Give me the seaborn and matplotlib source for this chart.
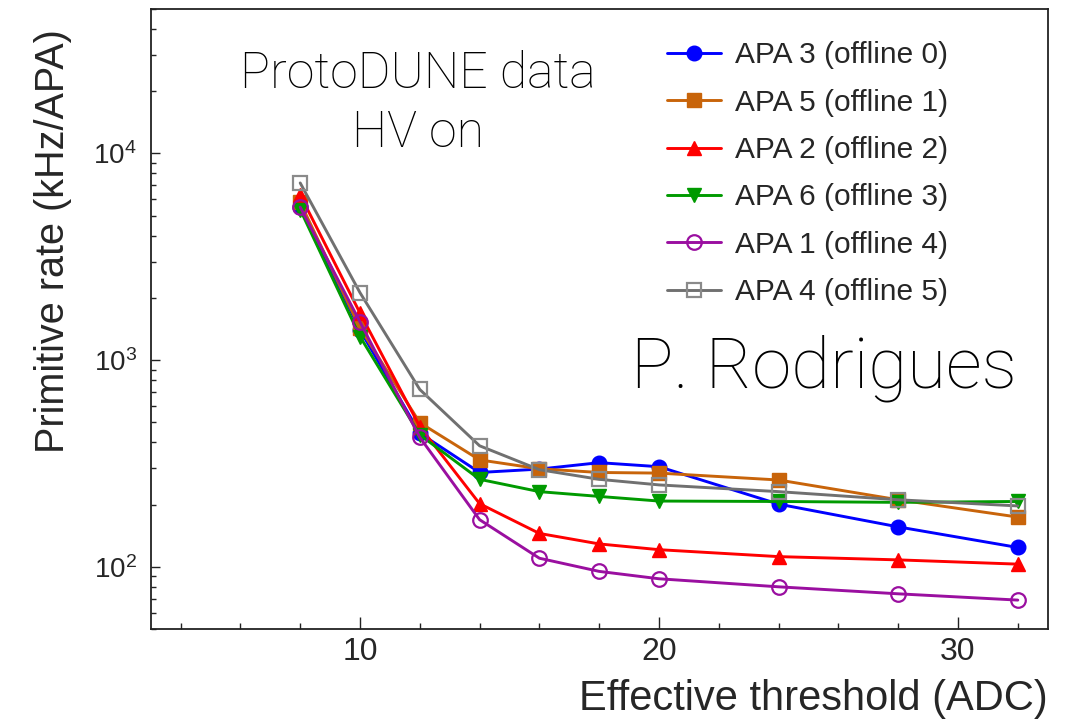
import matplotlib
matplotlib.use("Agg")
import matplotlib.pyplot as plt
import matplotlib.ticker as mticker
import seaborn as sns
import pandas as pd

# Effective threshold (ADC) scanned for each APA
thresholds = [8, 10, 12, 14, 16, 18, 20, 24, 28, 32]

# Trigger-primitive rate per APA (kHz/APA)
apa3_offline0 = [5500, 1400, 443, 286, 297, 319, 305, 201, 156, 124]
apa5_offline1 = [5800, 1430, 498, 329, 298, 286, 284, 263, 211, 174]
apa2_offline2 = [6300, 1690, 477, 202, 145, 129, 121, 112, 108, 103]
apa6_offline3 = [5350, 1300, 435, 265, 231, 219, 208, 207, 205, 207]
apa1_offline4 = [5500, 1530, 423, 169, 110, 95, 87.5, 80, 74, 69]
apa4_offline5 = [7200, 2120, 721, 385, 295, 265, 249, 231, 211, 197]

series_labels = ["APA 3 (offline 0)", "APA 5 (offline 1)", "APA 2 (offline 2)",
                 "APA 6 (offline 3)", "APA 1 (offline 4)", "APA 4 (offline 5)"]
series_values = [apa3_offline0, apa5_offline1, apa2_offline2,
                 apa6_offline3, apa1_offline4, apa4_offline5]

# Styling per series: colour, marker, filled
styles = [
    ("#0000ff", "o", True),
    ("#c8640a", "s", True),
    ("#ff0000", "^", True),
    ("#009a00", "v", True),
    ("#9a0fa0", "o", False),
    ("#707070", "s", False),
]

sns.set_theme(style="ticks")
plt.rcParams["font.family"] = ["Liberation Sans", "DejaVu Sans"]
plt.rcParams["mathtext.default"] = "regular"

fig = plt.figure(figsize=(10.75, 7.19), dpi=100)
ax = fig.add_axes([150.7 / 1075, (719 - 629) / 719, 897 / 1075, 620 / 719])

for label, values, (color, marker, filled) in zip(series_labels, series_values, styles):
    df = pd.DataFrame({"threshold": thresholds, "rate": values})
    kw = dict(markerfacecolor=color if filled else "none",
              markeredgecolor=color if filled else (color if marker == "o" else "#8a8a8a"),
              markeredgewidth=1.0 if filled else 1.6)
    sns.lineplot(data=df, x="threshold", y="rate", ax=ax, color=color,
                 marker=marker, markersize=10.5 if marker in "o^v" else 10,
                 linewidth=2.1, label=label, **kw)

ax.set_yscale("log")
ax.set_xlim(3, 33)
ax.set_ylim(50, 5e4)

ax.xaxis.set_major_locator(mticker.MultipleLocator(10))
ax.xaxis.set_minor_locator(mticker.MultipleLocator(2))
ax.yaxis.set_major_locator(mticker.LogLocator(base=10))
ax.yaxis.set_minor_locator(mticker.LogLocator(base=10, subs=range(2, 10)))
ax.yaxis.set_major_formatter(mticker.LogFormatterSciNotation())
ax.yaxis.set_minor_formatter(mticker.NullFormatter())

ax.tick_params(which="both", direction="in", top=False, right=False, width=1.0, color="#222222")
ax.tick_params(axis="x", which="major", length=8.6, pad=6, labelsize=23)
ax.tick_params(axis="x", which="minor", length=4.3)
ax.tick_params(axis="y", which="major", length=6.5, pad=10, labelsize=20)
ax.tick_params(axis="y", which="minor", length=3.5)
for sp in ax.spines.values():
    sp.set_linewidth(1.3)
    sp.set_color("#222222")

ax.set_xlabel("Effective threshold (ADC)", fontsize=30, loc="right")
ax.xaxis.set_label_coords(1.0, -0.080)
ax.set_ylabel("Primitive rate (kHz/APA)", fontsize=28.5, loc="top")
ax.yaxis.set_label_coords(-0.088, 0.968)

ax.legend(loc="upper left", bbox_to_anchor=(0.576, 0.948), frameon=False,
          fontsize=21.5, handlelength=1.8, handletextpad=0.47, labelspacing=0.65,
          borderpad=0, borderaxespad=0)

light = dict(family=["Roboto", "Lato", "DejaVu Sans"], fontweight="light", color="black")
ax.text(0.298, 0.8726, "ProtoDUNE data", transform=ax.transAxes, ha="center",
        va="baseline", fontsize=36, **light)
ax.text(0.298, 0.777, "HV on", transform=ax.transAxes, ha="center",
        va="baseline", fontsize=36, **light)
ax.text(0.536, 0.390, "P. Rodrigues", transform=ax.transAxes, ha="left",
        va="baseline", fontsize=51, **light)

fig.savefig("out.png", dpi=100)
